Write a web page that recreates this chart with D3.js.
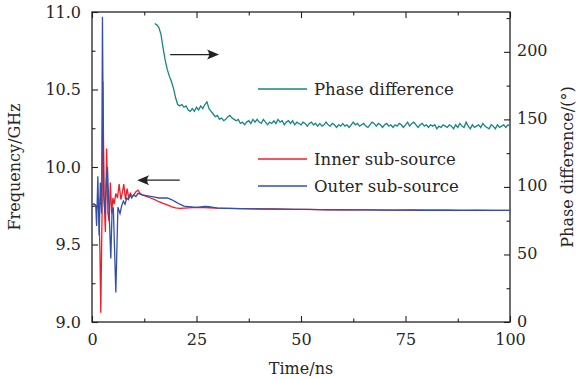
<!DOCTYPE html>
<html>
<head>
<meta charset="utf-8">
<script src="https://cdn.jsdelivr.net/npm/d3@7"></script>
<style>
  body { margin: 0; background: #fff; }
  svg text { font-family: "DejaVu Serif", serif; font-size: 16px; fill: #262626; }
</style>
</head>
<body>
<div id="chart"></div>
<script>
// inner sub-source frequency (GHz)
const innerTime = [0, 0.5, 1.0, 1.3, 1.6, 1.9, 2.1, 2.4, 2.6, 2.9, 3.2, 3.5, 3.8, 4.1, 4.4, 4.7, 5.0, 5.3, 5.7, 6.1,
  6.5, 6.9, 7.3, 7.6, 8.0, 8.4, 8.8, 9.2, 9.6, 10.0, 10.5, 11.0, 11.5, 12, 13, 14, 15, 16, 17, 18,
  19, 20, 21, 22, 24, 26, 28, 30, 33, 36, 40, 44, 48, 52, 56, 60, 64, 68, 72, 76,
  80, 84, 88, 92, 96, 100];
const innerFreq = [9.76, 9.76, 9.75, 9.74, 9.80, 9.45, 9.06, 9.70, 10.55, 9.80, 9.58, 10.12, 9.70, 9.65, 9.90, 9.70, 9.80, 9.76, 9.83, 9.80,
  9.89, 9.79, 9.84, 9.89, 9.79, 9.86, 9.80, 9.83, 9.81, 9.82, 9.84, 9.85, 9.83, 9.82, 9.81, 9.80, 9.79, 9.776, 9.765, 9.755,
  9.745, 9.736, 9.733, 9.735, 9.738, 9.74, 9.737, 9.735, 9.733, 9.731, 9.729, 9.73, 9.727, 9.726, 9.724, 9.725, 9.723, 9.724, 9.722, 9.723,
  9.721, 9.722, 9.72, 9.721, 9.72, 9.72];

// outer sub-source frequency (GHz)
const outerTime = [0, 0.6, 0.9, 1.1, 1.4, 1.7, 2.0, 2.3, 2.5, 2.8, 3.1, 3.4, 3.7, 4.0, 4.5, 4.8, 5.1, 5.7, 6.2, 6.7,
  7.1, 7.5, 7.9, 8.3, 8.7, 9.1, 9.5, 10.0, 10.5, 11, 12, 13, 14, 15, 16, 17, 18, 19, 20, 21,
  22, 23, 24, 25, 26, 27, 28, 29, 30, 35, 40, 45, 50, 55, 60, 65, 70, 75, 80, 85,
  90, 95, 100];
const outerFreq = [9.76, 9.76, 9.75, 9.62, 9.94, 9.56, 9.90, 9.70, 10.97, 9.82, 9.70, 9.90, 10.00, 9.78, 9.41, 9.72, 9.74, 9.19, 9.74, 9.70,
  9.75, 9.78, 9.76, 9.80, 9.79, 9.82, 9.80, 9.82, 9.81, 9.83, 9.82, 9.815, 9.81, 9.805, 9.80, 9.80, 9.80, 9.79, 9.775, 9.76,
  9.748, 9.745, 9.742, 9.74, 9.742, 9.745, 9.744, 9.74, 9.735, 9.732, 9.73, 9.728, 9.726, 9.725, 9.724, 9.723, 9.722, 9.722, 9.721, 9.721,
  9.72, 9.72, 9.72];

// phase difference (deg), sampled every 0.5 ns from 15 ns
const phaseStart = 15;
const phaseStep = 0.5;
const phaseValues = [
  221, 220, 218, 213, 203, 194, 187, 182, 178, 173,
  166, 161, 160, 161, 159, 160, 157, 156, 158, 156,
  159, 157, 160, 158, 161, 163, 158, 156, 154, 152,
  153, 150, 151, 149, 150, 152, 153, 151, 150, 149,
  150, 147, 148, 146, 148, 149, 147, 150, 148, 150,
  148, 147, 150, 148, 146, 148, 147, 149, 147, 150,
  148, 149, 146, 148, 149, 147, 149, 146, 148, 147,
  146, 148, 147, 145, 147, 148, 146, 147, 145, 147,
  145, 146, 148, 146, 145, 147, 146, 144, 146, 145,
  147, 145, 146, 144, 146, 148, 146, 147, 145, 146,
  147, 145, 144, 146, 148, 147, 145, 147, 146, 144,
  146, 147, 145, 146, 144, 146, 145, 147, 146, 144,
  146, 148, 145, 147, 148, 146, 144, 146, 147, 145,
  146, 144, 146, 145, 146, 143, 145, 144, 146, 145,
  144, 146, 145, 143, 146, 144, 147, 145, 144, 148,
  145, 143, 146, 144, 145, 146, 144, 147, 145, 144,
  143, 146, 145, 143, 146, 144, 145, 146, 144, 146,
  145];

// tick values
const timeTicks = [0, 25, 50, 75, 100];
const timeMinor = [12.5, 37.5, 62.5, 87.5];
const freqTicks = [9.0, 9.5, 10.0, 10.5, 11.0];
const freqMinor = [9.25, 9.75, 10.25, 10.75];
const phaseTicks = [0, 50, 100, 150, 200];
const phaseMinor = [25, 75, 125, 175, 225];

const legendItems = [
  { label: "Phase difference", color: "#16867f", y: 89 },
  { label: "Inner sub-source", color: "#e8202a", y: 159 },
  { label: "Outer sub-source", color: "#3350a6", y: 186 },
];

const W = 580, H = 380;
const plot = { left: 92, right: 510, top: 12, bottom: 322 };

const svg = d3
  .select("#chart")
  .append("svg")
  .attr("width", W)
  .attr("height", H);

// scales
const x = d3.scaleLinear().domain([0, 100]).range([plot.left, plot.right]);
const yF = d3.scaleLinear().domain([9, 11]).range([plot.bottom, plot.top]);
const yP = d3.scaleLinear().domain([0, 229.5]).range([plot.bottom, plot.top]);

// axes (ticks point inward)
function addAxis(axis, tx, ty) {
  const g = svg.append("g").attr("transform", `translate(${tx},${ty})`).call(axis);
  g.select(".domain").remove();
  g.selectAll(".tick line").attr("stroke", "#222").attr("stroke-width", 1.1);
  g.selectAll("text").attr("font-family", null).attr("font-size", null);
  return g;
}

addAxis(d3.axisBottom(x).tickValues(timeTicks).tickSize(-6).tickPadding(12), 0, plot.bottom);
addAxis(d3.axisBottom(x).tickValues(timeMinor).tickSize(-3.5).tickFormat(""), 0, plot.bottom);
addAxis(d3.axisTop(x).tickValues(timeTicks).tickSize(-6).tickFormat(""), 0, plot.top);
addAxis(d3.axisTop(x).tickValues(timeMinor).tickSize(-3.5).tickFormat(""), 0, plot.top);
addAxis(d3.axisLeft(yF).tickValues(freqTicks).tickSize(-6).tickPadding(11).tickFormat(d3.format(".1f")), plot.left, 0);
addAxis(d3.axisLeft(yF).tickValues(freqMinor).tickSize(-3.5).tickFormat(""), plot.left, 0);
addAxis(d3.axisRight(yP).tickValues(phaseTicks).tickSize(-6).tickPadding(7), plot.right, 0)
  .selectAll("text").attr("dy", "0.25em");
addAxis(d3.axisRight(yP).tickValues(phaseMinor).tickSize(-3.5).tickFormat(""), plot.right, 0);

// frame
svg
  .append("rect")
  .attr("x", plot.left)
  .attr("y", plot.top)
  .attr("width", plot.right - plot.left)
  .attr("height", plot.bottom - plot.top)
  .attr("fill", "none")
  .attr("stroke", "#222")
  .attr("stroke-width", 1.3);

// series
const phaseData = phaseValues.map((v, i) => [phaseStart + i * phaseStep, v]);
const innerData = d3.zip(innerTime, innerFreq);
const outerData = d3.zip(outerTime, outerFreq);

const lineF = d3.line().x((d) => x(d[0])).y((d) => yF(d[1]));
const lineP = d3.line().x((d) => x(d[0])).y((d) => yP(d[1]));

svg.append("path").datum(phaseData).attr("d", lineP)
  .attr("fill", "none").attr("stroke", legendItems[0].color).attr("stroke-width", 1.3);
svg.append("path").datum(innerData).attr("d", lineF)
  .attr("fill", "none").attr("stroke", legendItems[1].color).attr("stroke-width", 1.3);
svg.append("path").datum(outerData).attr("d", lineF)
  .attr("fill", "none").attr("stroke", legendItems[2].color).attr("stroke-width", 1.3);

// arrows pointing at the matching axis
function arrow(x1, y1, x2, y2) {
  const dir = Math.sign(x2 - x1);
  svg.append("line")
    .attr("x1", x1).attr("y1", y1).attr("x2", x2 - dir * 8).attr("y2", y2)
    .attr("stroke", "#222").attr("stroke-width", 1.3);
  const b = x2 - dir * 12;
  svg.append("path")
    .attr("d", `M${x2},${y2} L${b},${y2 - 5} Q${x2 - dir * 8},${y2} ${b},${y2 + 5} Z`)
    .attr("fill", "#222");
}
arrow(x(18.7), yP(198), x(30.4), yP(198));
arrow(x(21), yF(9.915), x(10.8), yF(9.915));

// legend
const legend = svg.selectAll(".legend").data(legendItems).join("g").attr("class", "legend");
legend.append("line")
  .attr("x1", 258).attr("x2", 307)
  .attr("y1", (d) => d.y).attr("y2", (d) => d.y)
  .attr("stroke", (d) => d.color).attr("stroke-width", 1.3);
legend.append("text")
  .attr("x", 314).attr("y", (d) => d.y)
  .attr("dy", "0.35em")
  .style("font-size", "16.5px")
  .text((d) => d.label);

// axis titles
svg.append("text")
  .attr("x", (plot.left + plot.right) / 2)
  .attr("y", 374)
  .attr("text-anchor", "middle")
  .text("Time/ns");

svg.append("text")
  .attr("transform", `translate(20,${(plot.top + plot.bottom) / 2}) rotate(-90)`)
  .attr("text-anchor", "middle")
  .text("Frequency/GHz");

svg.append("text")
  .attr("transform", `translate(573,${(plot.top + plot.bottom) / 2}) rotate(-90)`)
  .attr("text-anchor", "middle")
  .text("Phase difference/(°)");
</script>
</body>
</html>
